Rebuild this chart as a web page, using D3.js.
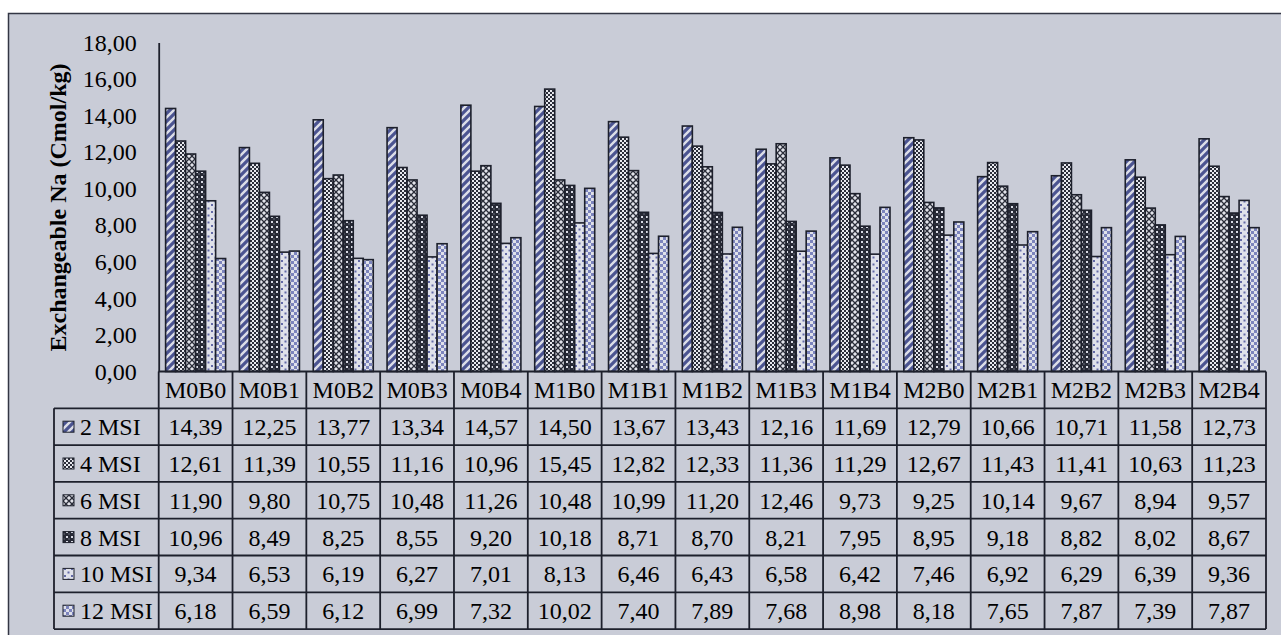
<!DOCTYPE html>
<meta charset="utf-8">
<style>
body {
  margin: 0;
  background: #fff;
}
text {
  font-family: "Liberation Serif", "Times New Roman", serif;
  fill: #000;
}
</style>
<body>
<script src="https://d3js.org/d3.v7.min.js"></script>
<script>
var categories = ["M0B0", "M0B1", "M0B2", "M0B3", "M0B4", "M1B0", "M1B1", "M1B2",
                  "M1B3", "M1B4", "M2B0", "M2B1", "M2B2", "M2B3", "M2B4"];
var seriesNames = ["2 MSI", "4 MSI", "6 MSI", "8 MSI", "10 MSI", "12 MSI"];
var msi2  = [14.39, 12.25, 13.77, 13.34, 14.57, 14.50, 13.67, 13.43, 12.16, 11.69, 12.79, 10.66, 10.71, 11.58, 12.73];
var msi4  = [12.61, 11.39, 10.55, 11.16, 10.96, 15.45, 12.82, 12.33, 11.36, 11.29, 12.67, 11.43, 11.41, 10.63, 11.23];
var msi6  = [11.90, 9.80, 10.75, 10.48, 11.26, 10.48, 10.99, 11.20, 12.46, 9.73, 9.25, 10.14, 9.67, 8.94, 9.57];
var msi8  = [10.96, 8.49, 8.25, 8.55, 9.20, 10.18, 8.71, 8.70, 8.21, 7.95, 8.95, 9.18, 8.82, 8.02, 8.67];
var msi10 = [9.34, 6.53, 6.19, 6.27, 7.01, 8.13, 6.46, 6.43, 6.58, 6.42, 7.46, 6.92, 6.29, 6.39, 9.36];
var msi12 = [6.18, 6.59, 6.12, 6.99, 7.32, 10.02, 7.40, 7.89, 7.68, 8.98, 8.18, 7.65, 7.87, 7.39, 7.87];
var yTicks = [0, 2, 4, 6, 8, 10, 12, 14, 16, 18];
var yTitle = "Exchangeable Na (Cmol/kg)";

var series = [msi2, msi4, msi6, msi8, msi10, msi12];

var width = 1281,
    height = 635,
    bg = "#c9ccd7",
    ink = "#1d202c";

var comma = d3.formatLocale({decimal: ",", thousands: ".", grouping: [3], currency: ["", ""]}).format(".2f");

var svg = d3.select("body")
  .append("svg")
  .attr("width", width)
  .attr("height", height);

// fill patterns for the six series
var defs = svg.append("defs");

var p = defs.append("pattern").attr("id", "p0").attr("patternUnits", "userSpaceOnUse")
  .attr("width", 8).attr("height", 8);
p.append("rect").attr("width", 8).attr("height", 8).attr("fill", "#dcdee8");
p.append("path").attr("d", "M-2,10 L10,-2 M-2,2 L2,-2 M6,10 L10,6")
  .attr("stroke", "#4b5491").attr("stroke-width", 3.2);

p = defs.append("pattern").attr("id", "p1").attr("patternUnits", "userSpaceOnUse")
  .attr("width", 4).attr("height", 4);
p.append("rect").attr("width", 4).attr("height", 4).attr("fill", "#2a2d39");
p.append("rect").attr("x", 0).attr("y", 0).attr("width", 2).attr("height", 2).attr("fill", "#e8e9ef");
p.append("rect").attr("x", 2).attr("y", 2).attr("width", 2).attr("height", 2).attr("fill", "#e8e9ef");

p = defs.append("pattern").attr("id", "p2").attr("patternUnits", "userSpaceOnUse")
  .attr("width", 6).attr("height", 6);
p.append("rect").attr("width", 6).attr("height", 6).attr("fill", "#e2e3ea");
p.append("path").attr("d", "M0,0 L6,6 M6,0 L0,6")
  .attr("stroke", "#2a2d39").attr("stroke-width", 1.3);

p = defs.append("pattern").attr("id", "p3").attr("patternUnits", "userSpaceOnUse")
  .attr("width", 5).attr("height", 5);
p.append("rect").attr("width", 5).attr("height", 5).attr("fill", "#262935");
p.append("rect").attr("x", 1).attr("y", 1).attr("width", 2).attr("height", 2).attr("fill", "#d8dae4");
p.append("rect").attr("x", 3.5).attr("y", 3.5).attr("width", 1).attr("height", 1).attr("fill", "#aeb1c0");

p = defs.append("pattern").attr("id", "p4").attr("patternUnits", "userSpaceOnUse")
  .attr("width", 7).attr("height", 7);
p.append("rect").attr("width", 7).attr("height", 7).attr("fill", "#dfe1ea");
p.append("rect").attr("x", 1).attr("y", 1).attr("width", 2).attr("height", 2).attr("fill", "#636aa6");
p.append("rect").attr("x", 4.5).attr("y", 4.5).attr("width", 2).attr("height", 2).attr("fill", "#636aa6");

p = defs.append("pattern").attr("id", "p5").attr("patternUnits", "userSpaceOnUse")
  .attr("width", 6).attr("height", 6);
p.append("rect").attr("width", 6).attr("height", 6).attr("fill", "#dfe1ea");
p.append("rect").attr("width", 3).attr("height", 3).attr("fill", "#7c84bd");
p.append("rect").attr("x", 3).attr("y", 3).attr("width", 3).attr("height", 3).attr("fill", "#7c84bd");

// background and frame
svg.append("rect")
  .attr("x", 8.5)
  .attr("y", 13.5)
  .attr("width", 1300)
  .attr("height", 700)
  .attr("fill", bg)
  .attr("stroke", "#333644")
  .attr("stroke-width", 1.5);

var plotLeft = 158.7,
    plotRight = 1266,
    plotTop = 42.5,
    base = 371.5,
    rowH = 36.8,
    labelLeft = 54;

var x = d3.scaleBand()
  .domain(categories)
  .range([plotLeft, plotRight]);

var xs = d3.scaleBand()
  .domain(d3.range(series.length))
  .range([0, x.bandwidth()])
  .paddingOuter(0.69);

var y = d3.scaleLinear()
  .domain([0, 18])
  .range([base, plotTop]);

// bars
series.forEach(function(vals, i) {
  svg.append("g")
    .attr("fill", "url(#p" + i + ")")
    .selectAll("rect")
    .data(vals)
    .enter().append("rect")
    .attr("x", function(d, j) { return x(categories[j]) + xs(i); })
    .attr("y", function(d) { return y(d); })
    .attr("width", xs.bandwidth())
    .attr("height", function(d) { return base - y(d); })
    .attr("stroke", ink)
    .attr("stroke-width", 1.6);
});

// y axis
var yAxis = d3.axisLeft(y)
  .tickValues(yTicks)
  .tickSize(0)
  .tickPadding(22)
  .tickFormat(comma);

var ax = svg.append("g")
  .attr("transform", "translate(" + plotLeft + ",0)")
  .call(yAxis);
ax.select(".domain").attr("stroke", ink).attr("stroke-width", 1.8);
ax.selectAll("text")
  .attr("font-family", "Liberation Serif, serif")
  .attr("font-size", 24)
  .attr("fill", "#000");

svg.append("text")
  .attr("transform", "translate(66," + ((57 + 358) / 2) + ") rotate(-90)")
  .attr("text-anchor", "middle")
  .attr("font-size", 24)
  .attr("font-weight", "bold")
  .text(yTitle);

// data table
var table = svg.append("g");
var tableBottom = base + rowH * (series.length + 1);

table.append("line")
  .attr("x1", plotLeft).attr("x2", plotRight)
  .attr("y1", base).attr("y2", base);

d3.range(1, series.length + 2).forEach(function(r) {
  table.append("line")
    .attr("x1", labelLeft).attr("x2", plotRight)
    .attr("y1", base + r * rowH).attr("y2", base + r * rowH);
});

categories.concat(["end"]).forEach(function(c, j) {
  var xx = j < categories.length ? x(c) : plotRight;
  table.append("line")
    .attr("x1", xx).attr("x2", xx)
    .attr("y1", base).attr("y2", tableBottom);
});

table.append("line")
  .attr("x1", labelLeft).attr("x2", labelLeft)
  .attr("y1", base + rowH).attr("y2", tableBottom);

table.selectAll("line")
  .attr("stroke", ink)
  .attr("stroke-width", 1.8);

table.selectAll("text.cat")
  .data(categories)
  .enter().append("text")
  .attr("class", "cat")
  .attr("x", function(d) { return x(d) + x.bandwidth() / 2; })
  .attr("y", base + rowH / 2)
  .attr("dy", "0.35em")
  .attr("text-anchor", "middle")
  .attr("font-size", 24)
  .text(function(d) { return d; });

series.forEach(function(vals, i) {
  var cy = base + rowH * (i + 1) + rowH / 2;

  table.append("rect")
    .attr("x", 63)
    .attr("y", cy - 5.5)
    .attr("width", 11)
    .attr("height", 11)
    .attr("fill", "url(#p" + i + ")")
    .attr("stroke", ink)
    .attr("stroke-width", 1);

  table.append("text")
    .attr("x", 80)
    .attr("y", cy)
    .attr("dy", "0.35em")
    .attr("font-size", 24)
    .text(seriesNames[i]);

  table.selectAll("text.v" + i)
    .data(vals)
    .enter().append("text")
    .attr("class", "v" + i)
    .attr("x", function(d, j) { return x(categories[j]) + x.bandwidth() / 2; })
    .attr("y", cy)
    .attr("dy", "0.35em")
    .attr("text-anchor", "middle")
    .attr("font-size", 24)
    .text(function(d) { return comma(d); });
});
</script>
</body>
